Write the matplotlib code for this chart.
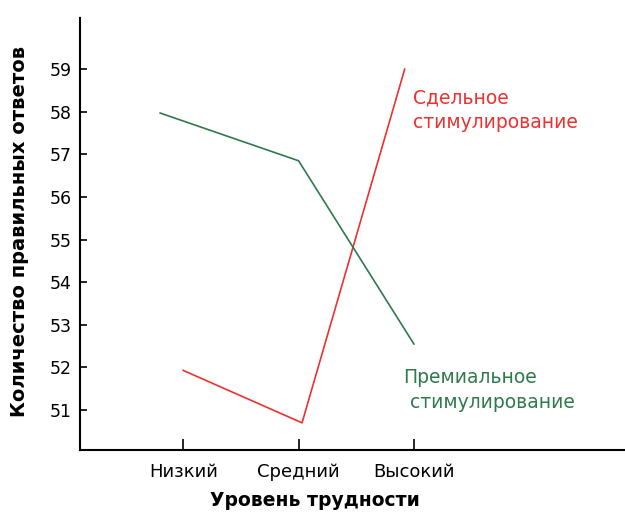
import matplotlib.pyplot as plt

categories = ["Низкий", "Средний", "Высокий"]

# x positions (in category units)
piece_x = [0.0, 1.03, 1.92]
piece_y = [51.93, 50.70, 59.0]
bonus_x = [-0.2, 1.0, 2.0]
bonus_y = [57.97, 56.85, 52.55]

y_ticks = [51, 52, 53, 54, 55, 56, 57, 58, 59]

RED = "#ee3030"
GREEN = "#2f7a4c"

fig = plt.figure(figsize=(6.25, 5.15), dpi=100)
ax = fig.add_axes([0.128, 0.126, 0.872, 0.839])

ax.plot(piece_x, piece_y, color=RED, linewidth=1.2)
ax.plot(bonus_x, bonus_y, color=GREEN, linewidth=1.2)

ax.set_xlim(-0.895, 3.83)
ax.set_ylim(50.06, 60.2)

ax.set_xticks(range(len(categories)))
ax.set_xticklabels(categories, fontsize=13)
ax.set_yticks(y_ticks)
ax.set_yticklabels([str(v) for v in y_ticks], fontsize=12.5)

ax.tick_params(axis="x", direction="in", length=8, width=1.2, pad=9)
ax.tick_params(axis="y", direction="in", length=5, width=1.2, pad=6)

for side in ("top", "right"):
    ax.spines[side].set_visible(False)
for side in ("left", "bottom"):
    ax.spines[side].set_linewidth(1.5)

ax.set_xlabel("Уровень трудности", fontsize=13.5, fontweight="bold")
ax.xaxis.set_label_coords(0.431, -0.094)
ax.set_ylabel("Количество правильных ответов", fontsize=14, fontweight="bold")
ax.yaxis.set_label_coords(-0.094, 0.505)

ax.text(1.99, 58.55, "Сдельное\nстимулирование", color=RED, fontsize=13.5,
        ha="left", va="top", linespacing=1.4)
ax.text(1.91, 51.98, "Премиальное\n стимулирование", color=GREEN, fontsize=13.5,
        ha="left", va="top", linespacing=1.4)

fig.savefig("out.png", dpi=100)
